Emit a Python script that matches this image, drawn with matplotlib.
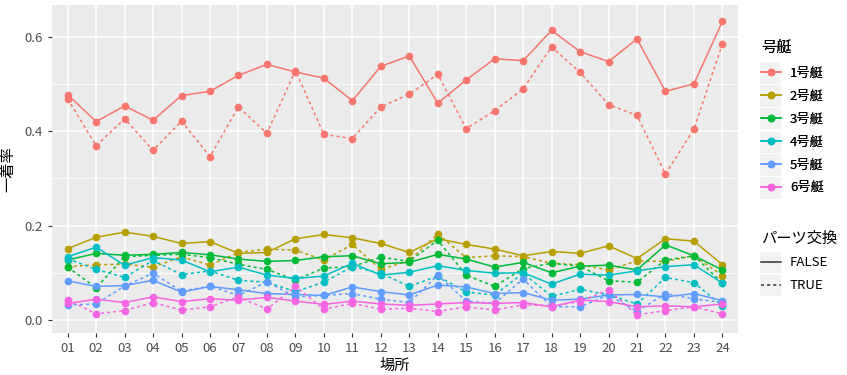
import matplotlib
matplotlib.use("Agg")
import matplotlib.pyplot as plt
from matplotlib.lines import Line2D
from matplotlib.patches import Rectangle

plt.rcParams['font.family'] = ['Noto Sans CJK JP', 'DejaVu Sans']

places = ["01", "02", "03", "04", "05", "06", "07", "08", "09", "10", "11", "12",
          "13", "14", "15", "16", "17", "18", "19", "20", "21", "22", "23", "24"]
boats = ["1号艇", "2号艇", "3号艇", "4号艇", "5号艇", "6号艇"]
colors = ["#F8766D", "#B79F00", "#00BA38", "#00BFC4", "#619CFF", "#F564E3"]

# 一着率, パーツ交換 = FALSE
rate_false = {
    "1号艇": [0.477, 0.420, 0.453, 0.423, 0.475, 0.484, 0.518, 0.541, 0.525, 0.512, 0.464, 0.537,
             0.559, 0.459, 0.508, 0.553, 0.549, 0.613, 0.568, 0.547, 0.595, 0.484, 0.500, 0.632],
    "2号艇": [0.151, 0.175, 0.186, 0.177, 0.162, 0.166, 0.141, 0.143, 0.172, 0.181, 0.174, 0.162,
             0.143, 0.172, 0.160, 0.150, 0.136, 0.145, 0.141, 0.157, 0.130, 0.172, 0.167, 0.117],
    "3号艇": [0.127, 0.141, 0.137, 0.139, 0.143, 0.138, 0.129, 0.124, 0.126, 0.134, 0.136, 0.119,
             0.122, 0.139, 0.129, 0.112, 0.122, 0.100, 0.114, 0.116, 0.106, 0.159, 0.136, 0.106],
    "4号艇": [0.134, 0.154, 0.116, 0.132, 0.127, 0.102, 0.112, 0.095, 0.088, 0.093, 0.120, 0.095,
             0.101, 0.115, 0.105, 0.099, 0.100, 0.076, 0.097, 0.095, 0.104, 0.113, 0.117, 0.078],
    "5号艇": [0.083, 0.071, 0.073, 0.084, 0.059, 0.071, 0.064, 0.056, 0.054, 0.052, 0.070, 0.060,
             0.053, 0.074, 0.070, 0.056, 0.058, 0.042, 0.044, 0.053, 0.054, 0.049, 0.056, 0.041],
    "6号艇": [0.035, 0.044, 0.037, 0.049, 0.039, 0.045, 0.042, 0.048, 0.040, 0.033, 0.040, 0.034,
             0.031, 0.034, 0.037, 0.035, 0.037, 0.028, 0.042, 0.039, 0.028, 0.030, 0.028, 0.034],
}

# 一着率, パーツ交換 = TRUE
rate_true = {
    "1号艇": [0.468, 0.369, 0.426, 0.359, 0.421, 0.346, 0.451, 0.395, 0.528, 0.393, 0.384, 0.451,
             0.478, 0.520, 0.405, 0.443, 0.489, 0.578, 0.524, 0.456, 0.433, 0.309, 0.404, 0.585],
    "2号艇": [0.113, 0.117, 0.118, 0.112, 0.134, 0.116, 0.143, 0.150, 0.148, 0.127, 0.160, 0.107,
             0.126, 0.182, 0.132, 0.136, 0.134, 0.120, 0.117, 0.106, 0.125, 0.124, 0.136, 0.094],
    "3号艇": [0.112, 0.068, 0.134, 0.137, 0.139, 0.132, 0.118, 0.107, 0.085, 0.110, 0.113, 0.133,
             0.124, 0.169, 0.095, 0.071, 0.109, 0.120, 0.114, 0.083, 0.080, 0.127, 0.136, 0.078],
    "4号艇": [0.130, 0.107, 0.090, 0.126, 0.096, 0.104, 0.084, 0.080, 0.060, 0.080, 0.113, 0.099,
             0.071, 0.093, 0.059, 0.053, 0.099, 0.050, 0.065, 0.053, 0.034, 0.090, 0.079, 0.030],
    "5号艇": [0.032, 0.034, 0.072, 0.099, 0.061, 0.072, 0.052, 0.081, 0.049, 0.052, 0.056, 0.044,
             0.037, 0.095, 0.040, 0.035, 0.087, 0.028, 0.028, 0.053, 0.018, 0.056, 0.045, 0.037],
    "6号艇": [0.043, 0.013, 0.020, 0.037, 0.021, 0.028, 0.049, 0.023, 0.071, 0.023, 0.035, 0.023,
             0.025, 0.018, 0.028, 0.021, 0.032, 0.030, 0.039, 0.064, 0.011, 0.020, 0.028, 0.013],
}

W, H = 847, 375
fig = plt.figure(figsize=(W / 100, H / 100), dpi=100)
ax = fig.add_axes([0.0614, 0.112, 0.81, 0.875])
ax.set_facecolor("#EBEBEB")
for s in ax.spines.values():
    s.set_visible(False)

x = list(range(1, len(places) + 1))
dotted = (0, (2, 2))
for b, c in zip(boats, colors):
    ax.plot(x, rate_false[b], color=c, lw=1.1, marker="o", ms=4.5, zorder=3)
    ax.plot(x, rate_true[b], color=c, lw=1.1, ls=dotted, marker="o", ms=4.5, zorder=3)

ax.set_xlim(0.45, 24.55)
ax.set_ylim(-0.0275, 0.667)
ax.set_xticks(x)
ax.set_xticklabels(places)
ax.set_yticks([0.0, 0.2, 0.4, 0.6])
ax.set_yticklabels(["0.0", "0.2", "0.4", "0.6"])
ax.set_yticks([0.1, 0.3, 0.5], minor=True)
ax.grid(True, which="major", color="white", lw=1.1, zorder=0)
ax.grid(True, which="minor", axis="y", color="white", lw=0.55, zorder=0)
ax.set_axisbelow(True)
ax.tick_params(axis="both", which="major", colors="#4D4D4D", labelsize=9.5,
               length=3, width=0.8, color="#333333")
ax.tick_params(axis="both", which="minor", length=0)
ax.set_xlabel("場所", fontsize=11, labelpad=1)
ax.set_ylabel("一着率", fontsize=11, labelpad=6)

# grey key boxes behind legend handles (pixel positions)
key_centers = [73, 96, 119, 142, 165, 188, 262, 285]
for yc in key_centers:
    fig.patches.append(Rectangle(((760) / W, 1 - (yc + 10.5) / H), 21 / W, 21 / H,
                                 transform=fig.transFigure, facecolor="#F2F2F2",
                                 edgecolor="none", zorder=0))

h1 = [Line2D([], [], color=c, lw=1.1, marker="o", ms=4.5) for c in colors]
leg1 = fig.legend(h1, boats, title="号艇", loc="upper left", bbox_to_anchor=(0.885, 0.925),
                  frameon=False, fontsize=9.5, title_fontsize=11, handlelength=1.45,
                  labelspacing=0.75, handletextpad=0.7, alignment="left")
h2 = [Line2D([], [], color="#333333", lw=1.1),
      Line2D([], [], color="#333333", lw=1.1, ls=dotted)]
leg2 = fig.legend(h2, ["FALSE", "TRUE"], title="パーツ交換", loc="upper left",
                  bbox_to_anchor=(0.885, 0.42), frameon=False, fontsize=9.5,
                  title_fontsize=11, handlelength=1.45, labelspacing=0.75,
                  handletextpad=0.7, alignment="left")
fig.add_artist(leg1)

fig.savefig("out.png", dpi=100)
